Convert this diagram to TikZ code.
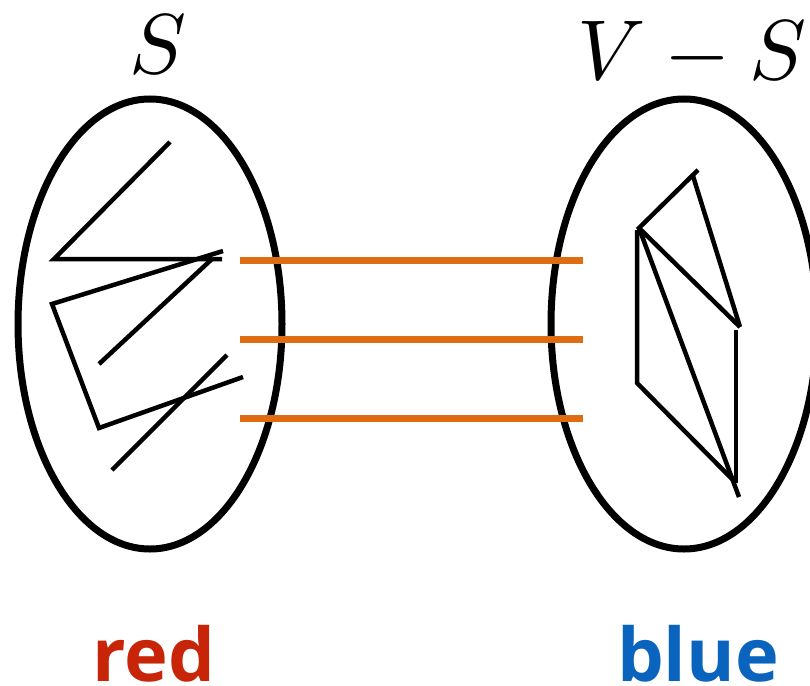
\documentclass[tikz,border=0pt]{standalone}
\usepackage{graphicx}
\usepackage{fontspec}
\newfontfamily\labelfont{Open Sans}
\definecolor{cutorange}{RGB}{222,108,18}
\definecolor{redtxt}{RGB}{200,36,8}
\definecolor{bluetxt}{RGB}{10,100,190}
\newcommand{\bigmath}[1]{\scalebox{8.5}{$#1$}}
\begin{document}
\begin{tikzpicture}[x=1pt,y=-1pt,
  setoval/.style={draw=black,line width=7pt},
  inedge/.style={draw=black,line width=4.5pt},
  cutedge/.style={draw=cutorange,line width=7pt},
  setlabel/.style={anchor=base,inner sep=0pt,font=\fontsize{10}{12}\selectfont},
  colorlabel/.style={anchor=base,inner sep=0pt,font=\labelfont\bfseries\fontsize{74}{80}\selectfont}]
\useasboundingbox (0,0) rectangle (810,685);
% sets
\draw[setoval] (150,324) ellipse [x radius=132pt, y radius=225pt];
\draw[setoval] (684,324) ellipse [x radius=133pt, y radius=225pt];
% edges inside S
\draw[inedge] (170,142) -- (54,259) -- (222,259);
\draw[inedge] (223,251) -- (52,304) -- (99,428) -- (243,377);
\draw[inedge] (212,259) -- (99,364);
\draw[inedge] (227,355) -- (112,470);
% edges inside V-S
\draw[inedge] (698,170) -- (639,228) -- (740,327);
\draw[inedge] (693,176) -- (740,327);
\draw[inedge] (637,230) -- (637,383) -- (733,480);
\draw[inedge] (639,228) -- (739,497);
\draw[inedge] (736,330) -- (736,483);
% cut edges
\draw[cutedge] (240,260) -- (583,260);
\draw[cutedge] (240,339) -- (583,339);
\draw[cutedge] (240,418) -- (583,418);
% labels
\node[setlabel] (lS) at (158,74) {\bigmath{S}};
\node[setlabel] (lVS) at (692,79) {\bigmath{V-S}};
\node[colorlabel,text=redtxt] (lred) at (154,681) {red};
\node[colorlabel,text=bluetxt] (lblue) at (698,681) {blue};
\end{tikzpicture}
\end{document}
